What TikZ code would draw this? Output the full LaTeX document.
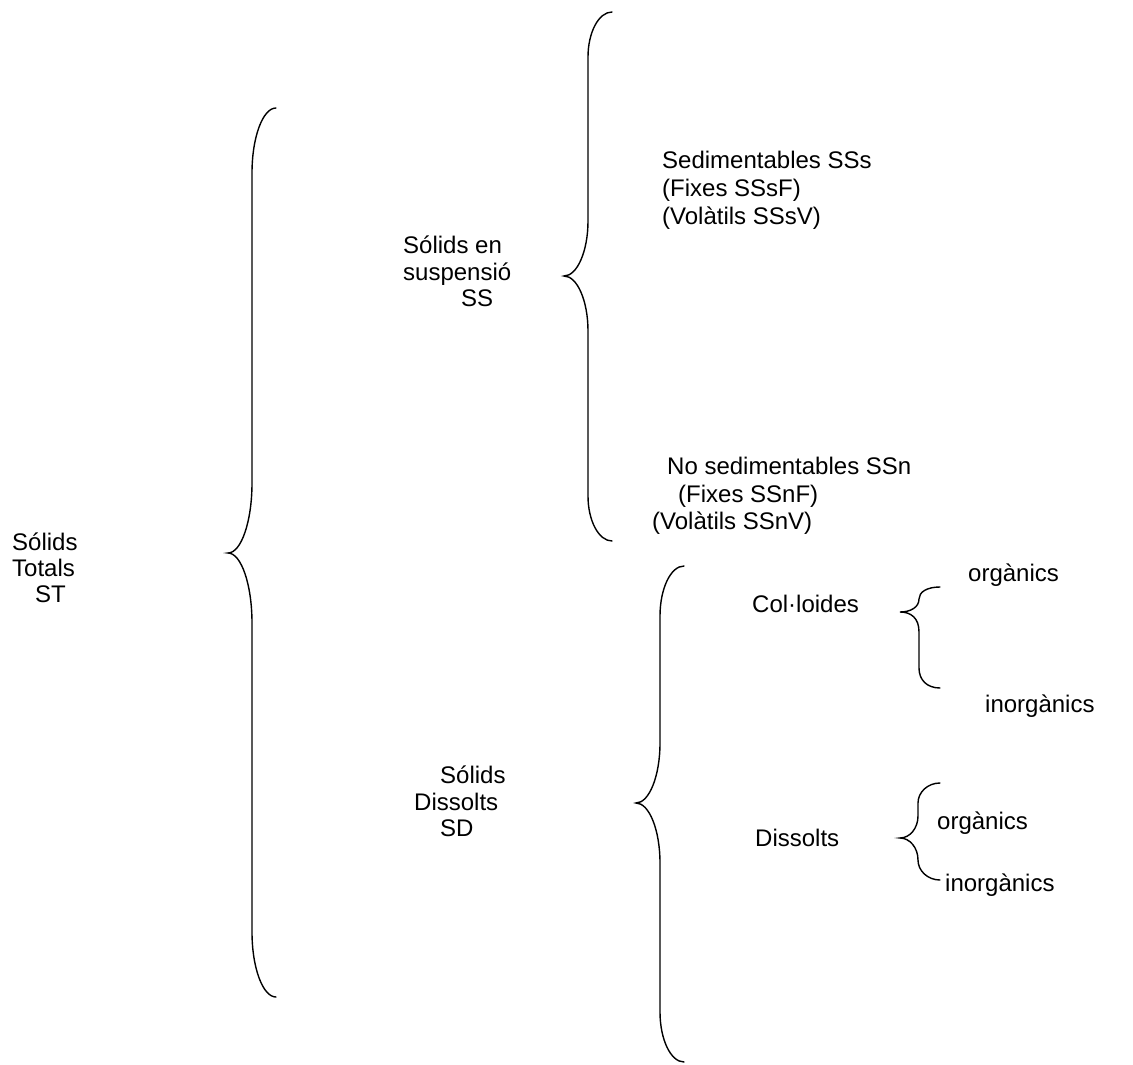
\documentclass[tikz,border=0pt]{standalone}
\usepackage{fontspec}
\setmainfont{Liberation Sans}
\newcommand\curlybr[8]{% xe yt xv xt ym yb h1 h2
  \draw[bracestyle] (#1,#2) .. controls ({#1-0.55*(#1-#3)},#2) and (#3,{#2+0.45*#7}) .. (#3,{#2+#7})
    -- (#3,{#5-#8}) .. controls (#3,{#5-0.45*#8}) and ({#3-0.45*(#3-#4)},#5) .. (#4,#5)
    .. controls ({#3-0.45*(#3-#4)},#5) and (#3,{#5+0.45*#8}) .. (#3,{#5+#8})
    -- (#3,{#6-#7}) .. controls (#3,{#6-0.45*#7}) and ({#1-0.55*(#1-#3)},#6) .. (#1,#6);}
\begin{document}
\begin{tikzpicture}[x=1pt,y=-1pt,
  lbl/.style={inner sep=0pt, anchor=base west, font=\fontsize{24}{28}\selectfont},
  bracestyle/.style={line width=1.4pt, line cap=round}]
\useasboundingbox (0,0) rectangle (1133,1065);
% braces
\curlybr{276}{108}{252}{228}{553}{997}{65}{70}
\curlybr{612}{12}{588}{564}{276}{541}{45}{55}
\curlybr{684}{566}{660}{636}{803}{1062}{50}{60}
% Col·loides brace (asymmetric: short upper half)
\draw[bracestyle] (940,587) .. controls (927,587) and (919,592) .. (919,599)
  .. controls (919,607) and (911,612) .. (900,612)
  .. controls (911,612) and (919,618) .. (919,632) -- (919,668)
  .. controls (919,680) and (927,688) .. (940,688);
\curlybr{940}{783}{918}{900}{838}{880}{20}{22}
% texts
\node[lbl] (st1) at (12,550) {Sólids};
\node[lbl] (st2) at (12,576) {Totals};
\node[lbl] (st3) at (35,602) {ST};
\node[lbl] (ss1) at (403,253) {Sólids en};
\node[lbl] (ss2) at (403,280) {suspensió};
\node[lbl] (ss3) at (461,306) {SS};
\node[lbl] (sed1) at (662,168) {Sedimentables SSs};
\node[lbl] (sed2) at (662,196) {(Fixes SSsF)};
\node[lbl] (sed3) at (662,224) {(Volàtils SSsV)};
\node[lbl] (nsed1) at (667,474) {No sedimentables SSn};
\node[lbl] (nsed2) at (678,502) {(Fixes SSnF)};
\node[lbl] (nsed3) at (652,529) {(Volàtils SSnV)};
\node[lbl] (org1) at (968,581) {orgànics};
\node[lbl] (col) at (752,612) {Col·loides};
\node[lbl] (inorg1) at (985,712) {inorgànics};
\node[lbl] (sd1) at (440,783) {Sólids};
\node[lbl] (sd2) at (414,810) {Dissolts};
\node[lbl] (sd3) at (440,836) {SD};
\node[lbl] (diss) at (755,846) {Dissolts};
\node[lbl] (org2) at (937,829) {orgànics};
\node[lbl] (inorg2) at (945,891) {inorgànics};
\end{tikzpicture}
\end{document}
